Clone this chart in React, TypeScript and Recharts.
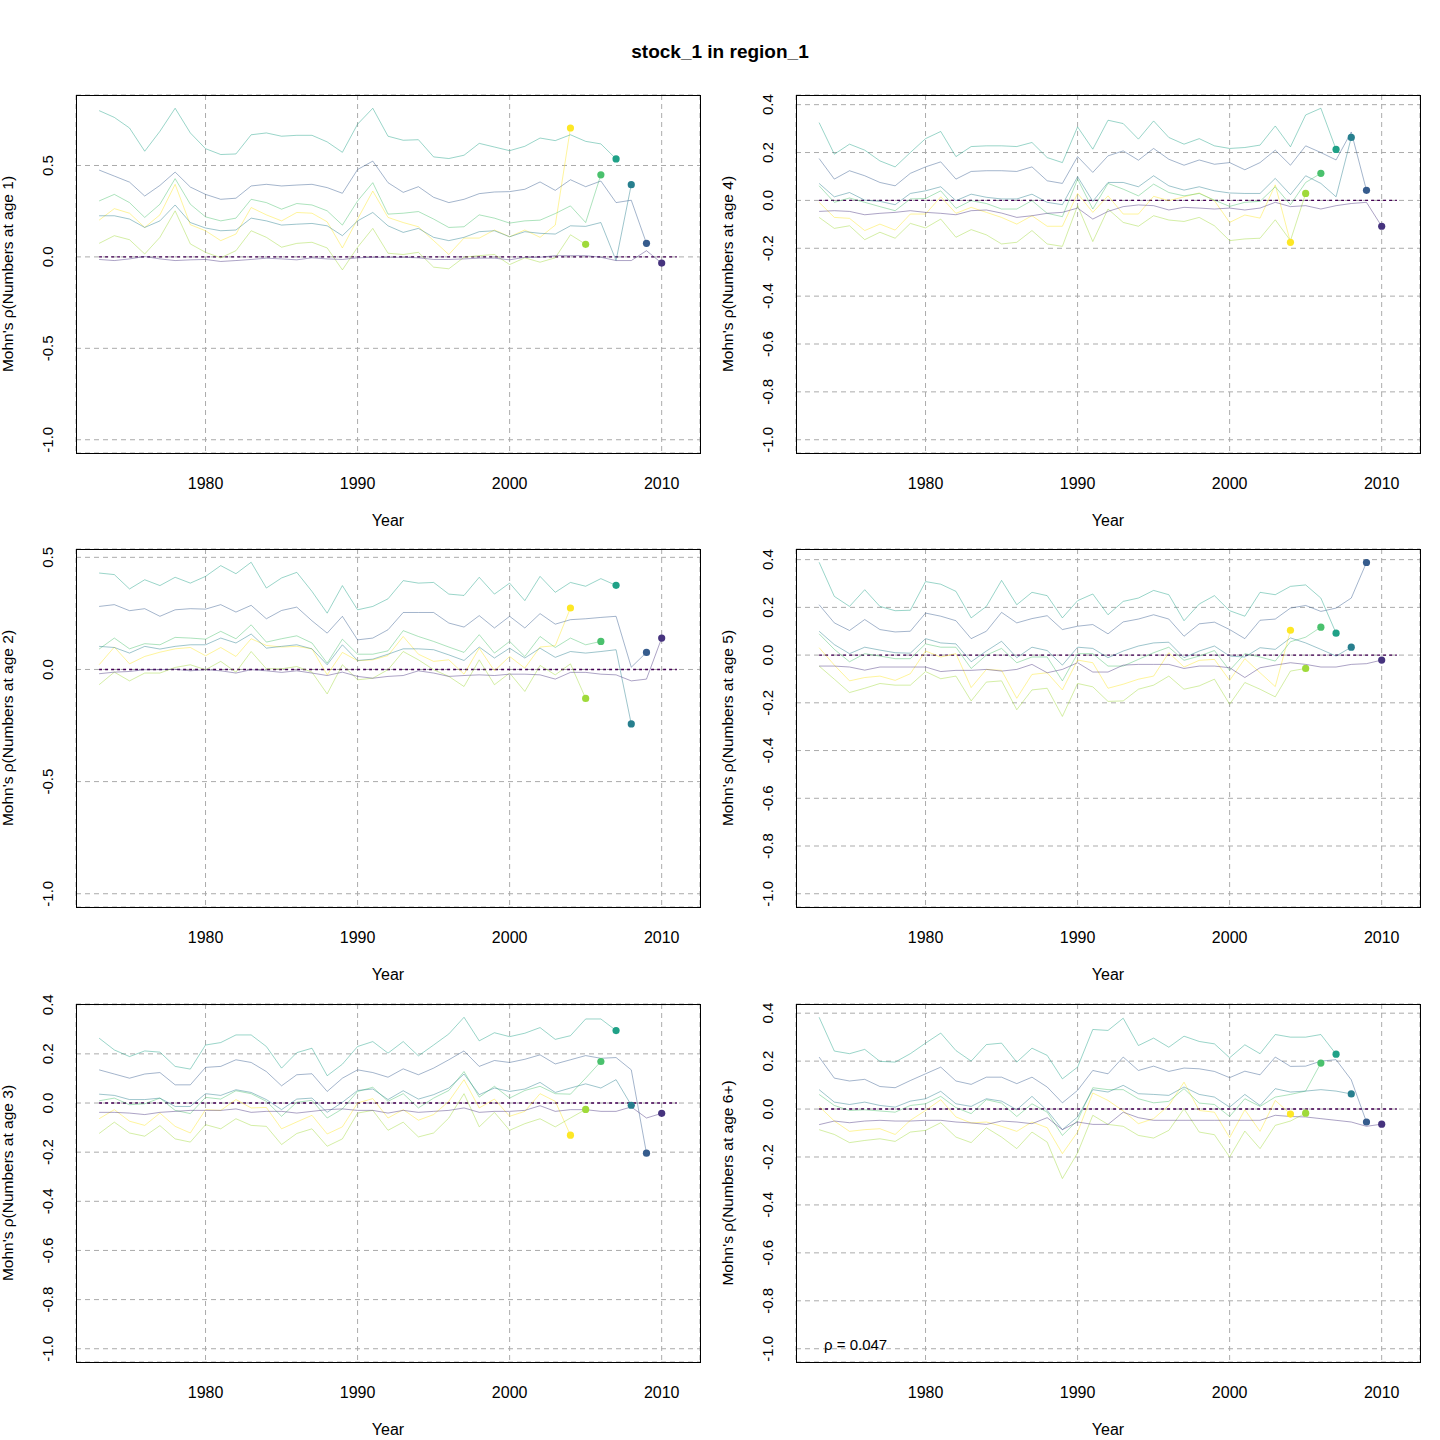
import { LineChart, Line, XAxis, YAxis, CartesianGrid, ReferenceLine } from "recharts";

// assessment years and retrospective peels (terminal year of each peel)
const years = [
  1973, 1974, 1975, 1976, 1977, 1978, 1979, 1980, 1981, 1982,
  1983, 1984, 1985, 1986, 1987, 1988, 1989, 1990, 1991, 1992,
  1993, 1994, 1995, 1996, 1997, 1998, 1999, 2000, 2001, 2002,
  2003, 2004, 2005, 2006, 2007, 2008, 2009, 2010,
];
const peelEnds = [2004, 2005, 2006, 2007, 2008, 2009, 2010];
const peelColors = ["#FDE725", "#9FDA3A", "#4AC16D", "#1FA187", "#277F8E", "#365C8D", "#46337E"];
const fullRunColor = "#440154";
const fullRunEnd = 2011;
const yearTicks = [1980, 1990, 2000, 2010];
const halfTicks = [-1, -0.5, 0, 0.5];
const fifthTicks = [-1, -0.8, -0.6, -0.4, -0.2, 0, 0.2, 0.4];
const rhoText = "ρ = 0.047";

// age 1
const age1P2004 = [
  0.201, 0.264, 0.239, 0.161, 0.23, 0.397, 0.176, 0.143, 0.089, 0.125,
  0.27, 0.23, 0.197, 0.243, 0.239, 0.192, 0.049, 0.207, 0.36, 0.216,
  0.188, 0.165, 0.089, 0.013, 0.103, 0.103, 0.147, 0.11, 0.147, 0.107,
  0.174, 0.705,
];
const age1P2005 = [
  0.074, 0.116, 0.094, 0.016, 0.107, 0.252, 0.071, 0.025, -0.005, 0.034,
  0.143, 0.107, 0.053, 0.074, 0.08, 0.049, -0.071, 0.053, 0.156, 0.02,
  0.013, 0.025, -0.056, -0.065, -0.002, 0.007, 0.013, -0.042, -0.005, -0.029,
  -0.005, 0.121, 0.069,
];
const age1P2006 = [
  0.306, 0.342, 0.297, 0.216, 0.288, 0.428, 0.288, 0.219, 0.197, 0.212,
  0.315, 0.297, 0.261, 0.292, 0.284, 0.252, 0.174, 0.306, 0.406, 0.234,
  0.239, 0.248, 0.207, 0.161, 0.165, 0.23, 0.212, 0.185, 0.197, 0.201,
  0.237, 0.279, 0.188, 0.449,
];
const age1P2007 = [
  0.8, 0.763, 0.705, 0.578, 0.687, 0.813, 0.678, 0.592, 0.56, 0.563,
  0.668, 0.678, 0.66, 0.665, 0.665, 0.629, 0.572, 0.726, 0.813, 0.66,
  0.638, 0.641, 0.547, 0.538, 0.556, 0.621, 0.601, 0.581, 0.605, 0.65,
  0.636, 0.668, 0.632, 0.618, 0.536,
];
const age1P2008 = [
  0.225, 0.225, 0.207, 0.161, 0.197, 0.284, 0.188, 0.158, 0.143, 0.147,
  0.212, 0.197, 0.174, 0.179, 0.183, 0.17, 0.116, 0.197, 0.243, 0.17,
  0.134, 0.156, 0.107, 0.089, 0.107, 0.138, 0.143, 0.11, 0.138, 0.129,
  0.125, 0.17, 0.167, 0.188, -0.02, 0.395,
];
const age1P2009 = [
  0.475, 0.442, 0.409, 0.333, 0.391, 0.464, 0.382, 0.342, 0.315, 0.321,
  0.388, 0.397, 0.388, 0.393, 0.397, 0.379, 0.348, 0.478, 0.524, 0.406,
  0.353, 0.384, 0.326, 0.297, 0.315, 0.346, 0.355, 0.357, 0.37, 0.41,
  0.364, 0.422, 0.384, 0.415, 0.297, 0.31, 0.074,
];
const age1P2010 = [
  -0.014, -0.02, -0.011, 0.002, -0.011, -0.02, -0.016, -0.014, -0.025, -0.02,
  -0.014, -0.007, -0.011, -0.016, -0.005, -0.011, -0.014, -0.005, -0.002, -0.002,
  -0.002, -0.005, -0.014, -0.014, -0.011, -0.007, -0.007, -0.016, -0.002, -0.002,
  0.007, 0.007, 0.007, -0.002, -0.02, -0.02, 0.034, -0.034,
];

// age 4
const age4P2004 = [
  -0.008, -0.071, -0.075, -0.126, -0.099, -0.124, -0.057, -0.057, 0.015, -0.054,
  -0.029, -0.05, -0.071, -0.099, -0.064, -0.108, -0.108, 0.029, -0.05, 0.019,
  -0.057, -0.057, 0.017, -0.001, 0.015, 0.031, -0.001, -0.092, -0.061, -0.074,
  0.065, -0.175,
];
const age4P2005 = [
  -0.071, -0.117, -0.106, -0.164, -0.133, -0.158, -0.096, -0.115, -0.078, -0.154,
  -0.122, -0.144, -0.182, -0.175, -0.126, -0.182, -0.192, -0.022, -0.172, -0.036,
  -0.092, -0.108, -0.064, -0.082, -0.088, -0.071, -0.106, -0.168, -0.161, -0.158,
  -0.081, -0.168, 0.029,
];
const age4P2006 = [
  0.061, -0.008, 0.01, -0.008, -0.026, -0.043, 0.006, 0.008, 0.04, -0.033,
  -0.001, -0.013, -0.036, -0.036, -0.001, -0.054, -0.068, 0.089, -0.036, 0.071,
  0.047, 0.019, 0.068, 0.033, 0.019, 0.029, 0.001, -0.025, -0.008, -0.004,
  0.057, -0.018, 0.075, 0.113,
];
const age4P2007 = [
  0.325, 0.193, 0.235, 0.21, 0.165, 0.14, 0.2, 0.258, 0.288, 0.183,
  0.225, 0.228, 0.228, 0.225, 0.242, 0.179, 0.158, 0.307, 0.214, 0.335,
  0.321, 0.256, 0.332, 0.263, 0.235, 0.258, 0.228, 0.217, 0.221, 0.231,
  0.311, 0.224, 0.357, 0.385, 0.213,
];
const age4P2008 = [
  0.071, 0.015, 0.033, 0.001, -0.004, -0.018, 0.029, 0.04, 0.057, -0.001,
  0.026, 0.013, 0.006, 0.006, 0.026, -0.008, -0.018, 0.099, -0.004, 0.075,
  0.075, 0.057, 0.103, 0.061, 0.043, 0.057, 0.04, 0.031, 0.029, 0.029,
  0.092, 0.024, 0.103, 0.071, 0.015, 0.263,
];
const age4P2009 = [
  0.175, 0.089, 0.124, 0.103, 0.075, 0.061, 0.113, 0.14, 0.161, 0.089,
  0.121, 0.124, 0.124, 0.121, 0.14, 0.082, 0.071, 0.183, 0.117, 0.186,
  0.207, 0.168, 0.217, 0.172, 0.147, 0.169, 0.151, 0.158, 0.128, 0.158,
  0.21, 0.147, 0.228, 0.2, 0.169, 0.286, 0.042,
];
const age4P2010 = [
  -0.046, -0.043, -0.046, -0.06, -0.054, -0.05, -0.043, -0.05, -0.054, -0.06,
  -0.043, -0.04, -0.053, -0.071, -0.064, -0.054, -0.05, -0.032, -0.078, -0.046,
  -0.026, -0.019, -0.022, -0.04, -0.029, -0.032, -0.036, -0.032, -0.04, -0.032,
  -0.008, -0.026, -0.022, -0.036, -0.022, -0.013, -0.008, -0.108,
];

// age 2
const age2P2004 = [
  0.021, 0.1, 0.025, 0.058, 0.077, 0.092, 0.098, 0.061, 0.098, 0.058,
  0.137, 0.107, 0.1, 0.103, 0.092, -0.024, 0.076, 0.039, 0.043, 0.062,
  0.147, 0.068, 0.036, 0.043, -0.021, 0.095, -0.006, 0.058, 0.006, 0.1,
  0.106, 0.274,
];
const age2P2005 = [
  -0.068, -0.012, -0.051, -0.016, -0.016, 0.009, 0.021, -0.001, 0.036, -0.012,
  0.08, 0.003, 0.003, 0.013, -0.012, -0.109, 0.021, -0.046, -0.039, -0.001,
  0.08, 0.043, -0.001, -0.031, -0.076, 0.043, -0.068, -0.016, -0.098, 0.018,
  -0.024, 0.025, -0.129,
];
const age2P2006 = [
  0.091, 0.14, 0.092, 0.115, 0.11, 0.143, 0.14, 0.135, 0.17, 0.137,
  0.199, 0.122, 0.137, 0.15, 0.118, 0.028, 0.135, 0.068, 0.068, 0.083,
  0.173, 0.147, 0.125, 0.1, 0.076, 0.155, 0.073, 0.125, 0.058, 0.147,
  0.098, 0.14, 0.11, 0.125,
];
const age2P2007 = [
  0.43, 0.423, 0.359, 0.4, 0.374, 0.411, 0.385, 0.415, 0.463, 0.427,
  0.478, 0.363, 0.408, 0.433, 0.348, 0.251, 0.374, 0.266, 0.281, 0.315,
  0.396, 0.385, 0.388, 0.336, 0.33, 0.411, 0.336, 0.385, 0.307, 0.415,
  0.344, 0.388, 0.371, 0.405, 0.375,
];
const age2P2008 = [
  0.103, 0.098, 0.073, 0.103, 0.091, 0.103, 0.11, 0.11, 0.14, 0.118,
  0.158, 0.095, 0.103, 0.11, 0.092, 0.021, 0.11, 0.04, 0.046, 0.068,
  0.092, 0.092, 0.088, 0.065, 0.04, 0.1, 0.051, 0.095, 0.051, 0.095,
  0.054, 0.08, 0.073, 0.08, 0.088, -0.243,
];
const age2P2009 = [
  0.281, 0.289, 0.262, 0.271, 0.237, 0.266, 0.271, 0.269, 0.289, 0.256,
  0.286, 0.226, 0.263, 0.278, 0.217, 0.162, 0.237, 0.132, 0.14, 0.177,
  0.254, 0.254, 0.254, 0.207, 0.189, 0.24, 0.185, 0.237, 0.185, 0.249,
  0.202, 0.222, 0.226, 0.232, 0.237, 0.01, 0.076,
];
const age2P2010 = [
  -0.019, -0.012, -0.009, -0.001, -0.001, 0.001, -0.006, -0.001, -0.006, -0.016,
  -0.001, -0.006, -0.013, -0.006, -0.016, -0.027, -0.012, -0.031, -0.039, -0.031,
  -0.027, -0.006, -0.016, -0.031, -0.027, -0.024, -0.027, -0.021, -0.021, -0.024,
  -0.043, -0.013, -0.013, -0.021, -0.024, -0.051, -0.043, 0.14,
];

// age 5
const age5P2004 = [
  0.031, -0.042, -0.108, -0.094, -0.088, -0.106, -0.078, 0.017, -0.008, 0.006,
  -0.136, -0.06, -0.064, -0.181, -0.081, -0.074, -0.146, -0.021, -0.032, -0.139,
  -0.122, -0.101, -0.088, 0.01, -0.05, -0.022, -0.018, -0.106, -0.015, -0.074,
  -0.132, 0.104,
];
const age5P2005 = [
  -0.046, -0.101, -0.157, -0.139, -0.119, -0.126, -0.126, -0.069, -0.099, -0.088,
  -0.192, -0.113, -0.108, -0.229, -0.146, -0.139, -0.257, -0.119, -0.133, -0.194,
  -0.192, -0.143, -0.126, -0.088, -0.143, -0.129, -0.101, -0.206, -0.115, -0.143,
  -0.175, -0.067, -0.056,
];
const age5P2006 = [
  0.089, 0.024, -0.028, 0.006, -0.004, -0.015, -0.015, 0.047, 0.033, 0.033,
  -0.056, 0, 0.028, -0.032, -0.008, -0.008, -0.108, 0.006, 0.006, -0.046,
  -0.046, -0.018, 0.01, 0.033, -0.022, -0.004, 0.019, -0.064, 0.006, -0.008,
  -0.025, 0.056, 0.075, 0.117,
];
const age5P2007 = [
  0.389, 0.246, 0.204, 0.274, 0.204, 0.186, 0.188, 0.308, 0.297, 0.267,
  0.156, 0.204, 0.313, 0.211, 0.263, 0.249, 0.156, 0.228, 0.256, 0.169,
  0.225, 0.239, 0.271, 0.253, 0.144, 0.214, 0.249, 0.186, 0.163, 0.263,
  0.253, 0.288, 0.294, 0.239, 0.092,
];
const age5P2008 = [
  0.1, 0.044, 0.006, 0.033, 0.021, 0.01, 0.008, 0.069, 0.051, 0.047,
  -0.028, 0.017, 0.058, -0.011, 0.033, 0.019, -0.042, 0.033, 0.028, -0.011,
  0.017, 0.038, 0.051, 0.054, -0.011, 0.017, 0.038, -0.004, -0.008, 0.031,
  0.024, 0.072, 0.051, 0.024, -0.004, 0.033,
];
const age5P2009 = [
  0.211, 0.135, 0.103, 0.149, 0.107, 0.097, 0.1, 0.176, 0.163, 0.144,
  0.069, 0.1, 0.179, 0.135, 0.153, 0.165, 0.107, 0.121, 0.128, 0.089,
  0.139, 0.151, 0.169, 0.151, 0.079, 0.131, 0.138, 0.107, 0.069, 0.146,
  0.151, 0.197, 0.208, 0.183, 0.197, 0.239, 0.388,
];
const age5P2010 = [
  -0.046, -0.046, -0.05, -0.063, -0.05, -0.05, -0.05, -0.05, -0.069, -0.064,
  -0.064, -0.06, -0.067, -0.06, -0.039, -0.074, -0.06, -0.032, -0.071, -0.071,
  -0.042, -0.039, -0.039, -0.039, -0.056, -0.046, -0.046, -0.053, -0.094, -0.053,
  -0.042, -0.032, -0.039, -0.05, -0.05, -0.039, -0.036, -0.021,
];

// age 3
const age3P2004 = [
  -0.064, -0.027, -0.074, -0.091, -0.041, -0.095, -0.122, -0.027, -0.03, 0.014,
  -0.02, -0.018, -0.105, -0.077, -0.05, -0.126, -0.097, 0, 0.018, -0.061,
  -0.027, -0.07, -0.047, 0.007, 0.095, -0.02, 0.016, -0.054, -0.034, 0.038,
  0.007, -0.131,
];
const age3P2005 = [
  -0.124, -0.078, -0.122, -0.135, -0.092, -0.146, -0.159, -0.088, -0.105, -0.064,
  -0.091, -0.095, -0.169, -0.124, -0.105, -0.176, -0.146, -0.041, -0.03, -0.111,
  -0.078, -0.138, -0.122, -0.061, 0.038, -0.097, -0.038, -0.111, -0.084, -0.064,
  -0.097, -0.061, -0.026,
];
const age3P2006 = [
  0.009, 0.02, -0.007, -0.003, 0.02, -0.03, -0.043, 0.023, 0.016, 0.05,
  0.038, 0.007, -0.054, 0.003, 0.011, -0.061, -0.024, 0.047, 0.064, 0.007,
  0.038, -0.02, 0.02, 0.051, 0.128, 0.024, 0.068, 0.02, 0.051, 0.068,
  0.038, 0.036, 0.101, 0.169,
];
const age3P2007 = [
  0.264, 0.216, 0.189, 0.212, 0.207, 0.149, 0.138, 0.236, 0.246, 0.277,
  0.277, 0.23, 0.142, 0.205, 0.223, 0.111, 0.158, 0.23, 0.25, 0.203,
  0.25, 0.192, 0.236, 0.281, 0.349, 0.253, 0.286, 0.27, 0.284, 0.307,
  0.259, 0.274, 0.342, 0.342, 0.295,
];
const age3P2008 = [
  0.036, 0.031, 0.014, 0.014, 0.02, -0.014, -0.014, 0.038, 0.031, 0.054,
  0.043, 0.014, -0.027, 0.016, 0.02, -0.038, 0.003, 0.051, 0.057, 0.014,
  0.05, 0.016, 0.034, 0.061, 0.118, 0.034, 0.061, 0.047, 0.057, 0.084,
  0.043, 0.061, 0.078, 0.061, 0.095, -0.009,
];
const age3P2009 = [
  0.135, 0.118, 0.101, 0.118, 0.124, 0.074, 0.074, 0.145, 0.149, 0.176,
  0.165, 0.128, 0.07, 0.115, 0.119, 0.047, 0.101, 0.135, 0.124, 0.105,
  0.139, 0.115, 0.142, 0.176, 0.212, 0.149, 0.173, 0.165, 0.178, 0.196,
  0.159, 0.176, 0.193, 0.182, 0.185, 0.135, -0.204,
];
const age3P2010 = [
  -0.038, -0.038, -0.041, -0.047, -0.038, -0.034, -0.03, -0.03, -0.03, -0.024,
  -0.038, -0.034, -0.034, -0.041, -0.034, -0.027, -0.024, -0.03, -0.03, -0.041,
  -0.03, -0.038, -0.034, -0.03, -0.02, -0.038, -0.034, -0.034, -0.03, -0.011,
  -0.034, -0.027, -0.027, -0.034, -0.034, -0.016, -0.061, -0.042,
];

// age 6+
const age6P2004 = [
  0.011, -0.05, -0.093, -0.086, -0.082, -0.106, -0.047, -0.006, 0.039, -0.033,
  -0.058, -0.054, -0.072, -0.093, -0.054, -0.078, -0.186, -0.096, 0.067, 0.036,
  -0.008, -0.061, -0.04, 0.015, 0.112, -0.006, -0.013, -0.119, -0.003, -0.093,
  0.036, -0.021,
];
const age6P2005 = [
  -0.086, -0.106, -0.14, -0.131, -0.124, -0.135, -0.096, -0.089, -0.057, -0.117,
  -0.14, -0.078, -0.117, -0.165, -0.096, -0.138, -0.29, -0.183, -0.026, -0.064,
  -0.072, -0.11, -0.121, -0.089, 0.001, -0.096, -0.107, -0.2, -0.092, -0.165,
  -0.068, -0.05, -0.017,
];
const age6P2006 = [
  0.061, 0.015, -0.006, -0.003, -0.008, -0.013, 0.015, 0.022, 0.053, 0.006,
  -0.019, 0.039, 0.025, -0.031, 0.022, -0.013, -0.11, -0.047, 0.089, 0.081,
  0.081, 0.043, 0.026, 0.032, 0.085, 0.025, 0.019, -0.031, 0.043, 0.011,
  0.05, 0.061, 0.075, 0.192,
];
const age6P2007 = [
  0.383, 0.242, 0.231, 0.249, 0.199, 0.196, 0.231, 0.275, 0.317, 0.244,
  0.2, 0.269, 0.275, 0.196, 0.254, 0.224, 0.126, 0.175, 0.332, 0.328,
  0.379, 0.265, 0.296, 0.258, 0.304, 0.282, 0.272, 0.214, 0.268, 0.231,
  0.311, 0.3, 0.3, 0.311, 0.229,
];
const age6P2008 = [
  0.081, 0.029, 0.019, 0.029, 0.015, 0.008, 0.033, 0.043, 0.074, 0.022,
  0.011, 0.043, 0.033, -0.003, 0.053, -0.006, -0.086, -0.033, 0.081, 0.071,
  0.099, 0.064, 0.061, 0.057, 0.092, 0.061, 0.05, 0.008, 0.061, 0.015,
  0.085, 0.071, 0.075, 0.081, 0.075, 0.063,
];
const age6P2009 = [
  0.217, 0.129, 0.117, 0.124, 0.094, 0.089, 0.119, 0.147, 0.175, 0.117,
  0.103, 0.133, 0.133, 0.106, 0.133, 0.092, 0.026, 0.078, 0.161, 0.147,
  0.217, 0.161, 0.179, 0.157, 0.171, 0.168, 0.157, 0.131, 0.158, 0.143,
  0.217, 0.178, 0.179, 0.2, 0.206, 0.122, -0.054,
];
const age6P2010 = [
  -0.065, -0.05, -0.057, -0.05, -0.047, -0.05, -0.05, -0.047, -0.047, -0.054,
  -0.058, -0.064, -0.05, -0.054, -0.061, -0.036, -0.086, -0.054, -0.064, -0.064,
  -0.013, -0.036, -0.047, -0.047, -0.047, -0.047, -0.047, -0.047, -0.047, -0.047,
  -0.026, -0.031, -0.033, -0.04, -0.047, -0.054, -0.072, -0.063,
];

const panels = [
  { age: "1", left: 0, top: 95, yTicks: halfTicks, peels: [age1P2004, age1P2005, age1P2006, age1P2007, age1P2008, age1P2009, age1P2010] },
  { age: "4", left: 720, top: 95, yTicks: fifthTicks, peels: [age4P2004, age4P2005, age4P2006, age4P2007, age4P2008, age4P2009, age4P2010] },
  { age: "2", left: 0, top: 549, yTicks: halfTicks, peels: [age2P2004, age2P2005, age2P2006, age2P2007, age2P2008, age2P2009, age2P2010] },
  { age: "5", left: 720, top: 549, yTicks: fifthTicks, peels: [age5P2004, age5P2005, age5P2006, age5P2007, age5P2008, age5P2009, age5P2010] },
  { age: "3", left: 0, top: 1004, yTicks: fifthTicks, peels: [age3P2004, age3P2005, age3P2006, age3P2007, age3P2008, age3P2009, age3P2010] },
  { age: "6+", left: 720, top: 1004, yTicks: fifthTicks, peels: [age6P2004, age6P2005, age6P2006, age6P2007, age6P2008, age6P2009, age6P2010], note: rhoText },
];

const FONT = "'Liberation Sans', Arial, Helvetica, sans-serif";
const PLOT_W = 624;
const PLOT_H = 358;
const PAD_TOP = 24; // room above the plot so rotated tick labels are not cut

function buildRows(peels: number[][]) {
  return years.map((year, i) => {
    const row: any = { year };
    peels.forEach((vals, k) => {
      if (i < vals.length) row["p" + peelEnds[k]] = vals[i];
    });
    return row;
  });
}

const XTick = (props: any) => (
  <text x={props.x} y={PAD_TOP + PLOT_H + 30} textAnchor="middle" dominantBaseline="central" fontSize={16} fontFamily={FONT} fill="#000">
    {props.payload.value}
  </text>
);

const YTick = (props: any) => (
  <text
    x={48}
    y={props.y}
    transform={`rotate(-90 48 ${props.y})`}
    textAnchor="middle"
    dominantBaseline="central"
    fontSize={15}
    fontFamily={FONT}
    fill="#000"
  >
    {Number(props.payload.value).toFixed(1)}
  </text>
);

const endDot = (color: string, endYear: number) => (props: any) => {
  const { cx, cy, payload, index } = props;
  if (!payload || payload.year !== endYear || cx == null || cy == null) return <g key={index} />;
  return <circle key={index} cx={cx} cy={cy} r={3.6} fill={color} stroke="none" />;
};

function Panel({ age, left, top, yTicks, peels, note }: any) {
  const rows = buildRows(peels);
  const all = peels.flat();
  const lo = Math.min(-1, ...all);
  const hi = Math.max(...all);
  const yPad = (hi - lo) * 0.04;
  const xPad = (fullRunEnd - years[0]) * 0.04;

  return (
    <div style={{ position: "absolute", left, top: top - PAD_TOP, width: 720, height: PAD_TOP + PLOT_H + 90 }}>
      <LineChart
        width={720}
        height={PAD_TOP + PLOT_H + 90}
        data={rows}
        margin={{ top: PAD_TOP, right: 20, bottom: 0, left: 0 }}
        style={{ position: "absolute", left: 0, top: 0 }}
      >
        <CartesianGrid stroke="#ababab" strokeDasharray="5 4" />
        <XAxis
          type="number"
          dataKey="year"
          domain={[years[0] - xPad, fullRunEnd + xPad]}
          allowDataOverflow
          ticks={yearTicks}
          interval={0}
          tick={XTick}
          tickLine={false}
          axisLine={false}
          height={90}
        />
        <YAxis
          type="number"
          domain={[lo - yPad, hi + yPad]}
          allowDataOverflow
          ticks={yTicks}
          interval={0}
          tick={YTick}
          tickLine={false}
          axisLine={false}
          width={76}
        />
        <ReferenceLine
          segment={[{ x: years[0], y: 0 }, { x: fullRunEnd, y: 0 }]}
          stroke={fullRunColor}
          strokeDasharray="3 3"
          strokeWidth={1.4}
        />
        {peels.map((_: number[], k: number) => (
          <Line
            key={peelEnds[k]}
            type="linear"
            dataKey={"p" + peelEnds[k]}
            stroke={peelColors[k]}
            strokeOpacity={0.45}
            strokeWidth={1}
            dot={endDot(peelColors[k], peelEnds[k])}
            activeDot={false}
            isAnimationActive={false}
          />
        ))}
      </LineChart>

      <div
        style={{
          position: "absolute",
          left: 76,
          top: PAD_TOP,
          width: PLOT_W + 1,
          height: PLOT_H + 1,
          border: "1px solid #000",
          boxSizing: "border-box",
          pointerEvents: "none",
        }}
      />

      <div
        style={{
          position: "absolute",
          left: 76,
          top: PAD_TOP + PLOT_H + 58,
          width: PLOT_W,
          textAlign: "center",
          fontSize: 16,
          lineHeight: "20px",
          fontFamily: FONT,
        }}
      >
        Year
      </div>

      <div
        style={{
          position: "absolute",
          left: 8 - 160,
          top: PAD_TOP + PLOT_H / 2 - 10,
          width: 320,
          height: 20,
          lineHeight: "20px",
          textAlign: "center",
          transform: "rotate(-90deg)",
          fontSize: 15.5,
          fontFamily: FONT,
          whiteSpace: "nowrap",
        }}
      >
        {`Mohn's ρ(Numbers at age ${age})`}
      </div>

      {note ? (
        <div
          style={{
            position: "absolute",
            left: 104,
            top: PAD_TOP + 341 - 10,
            lineHeight: "20px",
            fontSize: 15,
            fontFamily: FONT,
            whiteSpace: "nowrap",
          }}
        >
          {note}
        </div>
      ) : null}
    </div>
  );
}

export default function App() {
  return (
    <div
      style={{
        position: "absolute",
        left: 0,
        top: 0,
        width: 1440,
        height: 1440,
        background: "#fff",
        fontFamily: FONT,
      }}
    >
      <div
        style={{
          position: "absolute",
          left: 0,
          top: 40,
          width: 1440,
          textAlign: "center",
          fontSize: 19,
          fontWeight: "bold",
          lineHeight: "24px",
        }}
      >
        stock_1 in region_1
      </div>
      {panels.map((p) => (
        <Panel key={p.age} {...p} />
      ))}
    </div>
  );
}
